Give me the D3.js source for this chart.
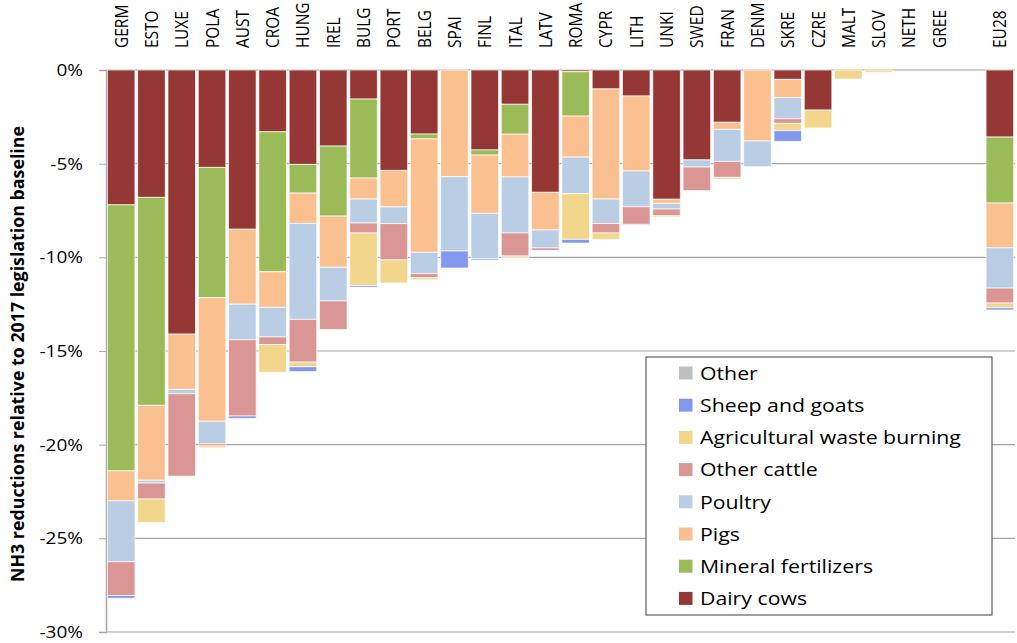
<!DOCTYPE html>
<html lang="en">
  <head>
    <meta charset="UTF-8" />
    <title>NH3 reductions by source</title>
    <script src="https://d3js.org/d3.v7.min.js"></script>
    <style>
      body { margin: 0; background: #fff; }
      text { font-family: "Open Sans", sans-serif; fill: #000; }
      .grid line { stroke: #a6a6a6; stroke-width: 1.2px; }
      .seg { stroke: #fff; stroke-width: 1px; stroke-opacity: 0.7; }
    </style>
  </head>
  <body>
    <svg width="1017" height="643"></svg>

    <script>
      // country codes (EU28 drawn after an empty slot)
      var countries = ["GERM", "ESTO", "LUXE", "POLA", "AUST", "CROA", "HUNG", "IREL", "BULG", "PORT",
        "BELG", "SPAI", "FINL", "ITAL", "LATV", "ROMA", "CYPR", "LITH", "UNKI", "SWED",
        "FRAN", "DENM", "SKRE", "CZRE", "MALT", "SLOV", "NETH", "GREE", "EU28"];

      // reductions in % (drawn downwards)
      var dairyCows =   [7.2, 6.8, 14.1, 5.2, 8.5, 3.3, 5.04, 4.06, 1.55, 5.36, 3.42, 0, 4.27, 1.83, 6.53, 0.09, 1.01, 1.39, 6.9, 4.8, 2.79, 0, 0.5, 2.14, 0, 0, 0, 0, 3.58];
      var mineralFert = [14.2, 11.1, 0, 6.95, 0, 7.47, 1.53, 3.74, 4.22, 0, 0.26, 0, 0.27, 1.6, 0, 2.37, 0, 0, 0, 0, 0, 0, 0, 0, 0, 0, 0, 0, 3.52];
      var pigs =        [1.6, 4.0, 2.95, 6.6, 4.0, 1.9, 1.62, 2.73, 1.12, 1.95, 6.05, 5.7, 3.11, 2.28, 2.01, 2.19, 5.88, 4.0, 0.22, 0, 0.38, 3.79, 0.98, 0, 0, 0, 0, 0, 2.39];
      var poultry =     [3.25, 0.15, 0.23, 1.2, 1.9, 1.58, 5.12, 1.8, 1.28, 0.89, 1.14, 3.96, 2.44, 2.99, 0.96, 1.95, 1.3, 1.91, 0.3, 0.38, 1.71, 1.37, 1.12, 0, 0, 0, 0, 0, 2.15];
      var otherCattle = [1.8, 0.85, 4.4, 0.12, 4.07, 0.41, 2.28, 1.52, 0.53, 1.94, 0.22, 0, 0, 1.23, 0.13, 0, 0.51, 0.94, 0.36, 1.26, 0.85, 0, 0.25, 0, 0, 0, 0, 0, 0.8];
      var agriWaste =   [0, 1.25, 0, 0.1, 0, 1.48, 0.25, 0, 2.8, 1.23, 0.11, 0, 0, 0.09, 0, 2.44, 0.34, 0, 0.07, 0, 0.09, 0, 0.39, 0.96, 0.48, 0.12, 0, 0, 0.25];
      var sheepGoats =  [0.15, 0, 0, 0, 0.13, 0, 0.26, 0, 0.09, 0, 0, 0.91, 0.07, 0, 0, 0.2, 0, 0.04, 0, 0, 0, 0, 0.57, 0, 0, 0, 0, 0, 0.12];
      var other =       [0, 0, 0, 0, 0, 0, 0, 0, 0, 0, 0, 0, 0, 0, 0, 0, 0, 0, 0, 0, 0, 0, 0, 0, 0, 0, 0, 0, 0];

      var seriesNames = ["Dairy cows", "Mineral fertilizers", "Pigs", "Poultry", "Other cattle",
        "Agricultural waste burning", "Sheep and goats", "Other"];
      var seriesValues = [dairyCows, mineralFert, pigs, poultry, otherCattle, agriWaste, sheepGoats, other];
      var seriesColors = ["#953735", "#9bbb59", "#fac090", "#b9cde5", "#d99694", "#f2d68c", "#8497ee", "#bfbfbf"];

      var yTicks = [0, -5, -10, -15, -20, -25, -30];

      var svg = d3.select("svg");
      var plotLeft = 106, plotRight = 1015, plotTop = 70, plotBottom = 632;
      var stretch = 1.12; // text in the original looks a bit wide

      var rows = countries.map(function (c, i) {
        var r = { country: c };
        seriesNames.forEach(function (s, j) { r[s] = seriesValues[j][i]; });
        return r;
      });

      var slots = countries.slice(0, 28).concat(["_gap", "EU28"]);
      var x = d3.scaleBand().domain(slots).range([plotLeft, plotRight]).paddingInner(0.09).paddingOuter(0.045);
      var y = d3.scaleLinear().domain([-30, 0]).range([plotBottom, plotTop]);
      var color = d3.scaleOrdinal().domain(seriesNames).range(seriesColors);

      // gridlines
      svg.append("g").attr("class", "grid")
        .selectAll("line").data(yTicks).enter().append("line")
        .attr("x1", plotLeft).attr("x2", plotRight)
        .attr("y1", function (d) { return y(d); }).attr("y2", function (d) { return y(d); })
        .style("stroke", function (d) { return d === 0 ? "#cfcfcf" : null; })
        .style("stroke-width", function (d) { return d === 0 ? 2 : null; });

      // y axis
      var yAxis = d3.axisLeft(y).tickValues(yTicks).tickSize(7).tickPadding(16)
        .tickFormat(function (d) { return d + "%"; });
      var ya = svg.append("g").attr("transform", "translate(" + plotLeft + ",0)").call(yAxis);
      ya.select(".domain").attr("stroke", "#a6a6a6").attr("stroke-width", 1.5);
      ya.selectAll(".tick line").attr("stroke", "#a6a6a6");
      ya.selectAll(".tick text")
        .attr("x", 0)
        .attr("transform", "translate(-23,0) scale(" + stretch + ",1)")
        .style("font-size", "17px").style("font-family", "'Open Sans', sans-serif")
        .attr("fill", "#000");

      // stacked bars
      var stack = d3.stack().keys(seriesNames);
      var layers = stack(rows);

      svg.append("g").selectAll("g").data(layers).enter().append("g")
        .attr("fill", function (d) { return color(d.key); })
        .selectAll("rect").data(function (d) { return d; }).enter().append("rect")
        .attr("class", "seg")
        .attr("x", function (d) { return x(d.data.country); })
        .attr("width", x.bandwidth())
        .attr("y", function (d) { return y(-d[0]); })
        .attr("height", function (d) { return y(-d[1]) - y(-d[0]); })
        .style("display", function (d) { return d[1] - d[0] > 0 ? null : "none"; });

      // country labels on top
      svg.append("g").selectAll("text").data(countries).enter().append("text")
        .attr("transform", function (d) {
          return "translate(" + (x(d) + x.bandwidth() / 2 + 6.5) + ",48) rotate(-90) scale(1," + stretch + ")";
        })
        .style("font-size", "15.5px")
        .text(function (d) { return d; });

      // y title
      svg.append("text")
        .attr("transform", "translate(24,354) rotate(-90)")
        .attr("text-anchor", "middle")
        .style("font-size", "17px").style("font-weight", "bold")
        .attr("textLength", 456).attr("lengthAdjust", "spacingAndGlyphs")
        .text("NH3 reductions relative to 2017 legislation baseline");

      // legend
      var lg = svg.append("g");
      lg.append("rect").attr("x", 646).attr("y", 357).attr("width", 346).attr("height", 258)
        .attr("fill", "#fff").attr("stroke", "#404040").attr("stroke-width", 1);
      var legendOrder = seriesNames.slice().reverse();
      var item = lg.selectAll("g.item").data(legendOrder).enter().append("g")
        .attr("transform", function (d, i) { return "translate(679," + (373 + i * 32.2) + ")"; });
      item.append("rect").attr("x", 0).attr("y", -6.5).attr("width", 13.5).attr("height", 13)
        .attr("fill", function (d) { return color(d); });
      item.append("text").attr("dy", "0.36em")
        .attr("transform", "translate(21,0) scale(" + stretch + ",1)")
        .style("font-size", "19px")
        .text(function (d) { return d; });
    </script>
  </body>
</html>
